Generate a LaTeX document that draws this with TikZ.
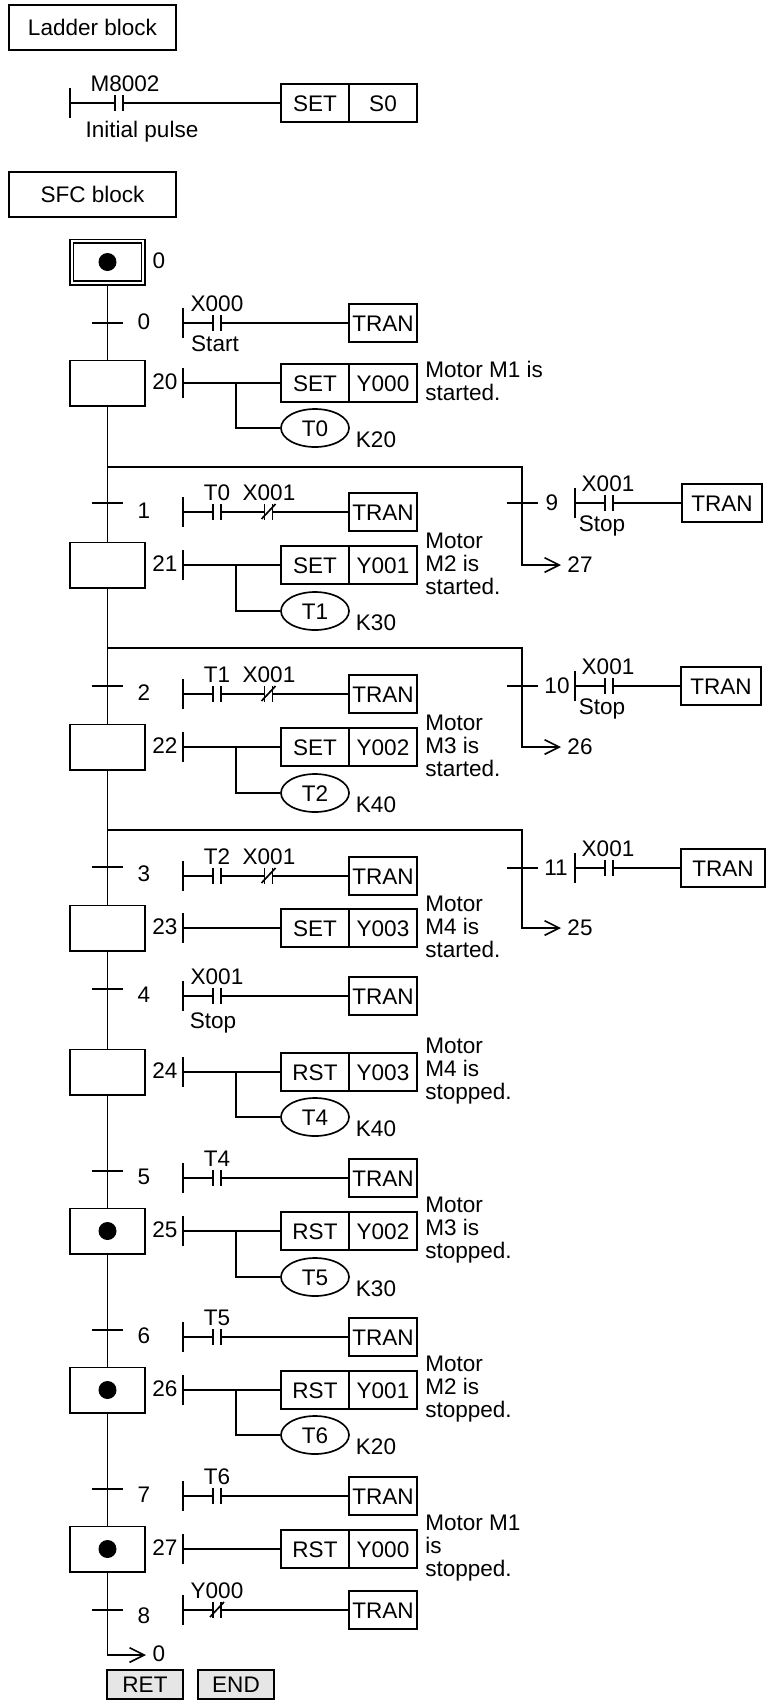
\documentclass[tikz,border=0pt]{standalone}
\usepackage{fontspec}
\setmainfont{Liberation Sans}
\usetikzlibrary{arrows.meta,calc,shapes.geometric}
\definecolor{KeyGray}{HTML}{E6E6E6}
\tikzset{
  wire/.style={line width=1.25pt},
  arrowwire/.style={wire,-{Straight Barb[length=11pt,width=11pt,line width=1.2pt]}},
  lbl/.style={inner sep=0pt,font=\fontsize{16.9}{17}\selectfont,text height=12.1pt,text depth=0pt},
  boxed/.style={draw,line width=1.25pt,inner sep=0pt,font=\fontsize{16.9}{17}\selectfont,text height=12.1pt,text depth=0pt},
  stepbox/.style={boxed,minimum width=56.25pt,minimum height=34pt},
  cellbox/.style={boxed,minimum width=51pt,minimum height=28.5pt},
  timer/.style={boxed,ellipse,minimum width=51pt,minimum height=28.5pt},
  note/.style={inner sep=0pt,anchor=west,align=left,font=\fontsize{16.9}{17.3}\selectfont},
}
\newcommand{\Rail}[3]{%
  \coordinate (#1) at (#2,#3);%
  \draw[wire] (#2,#3-15) -- (#2,#3+15);%
}
\newcommand{\Contact}[3]{%
  \coordinate (#1a) at (#2-4,#3);%
  \coordinate (#1b) at (#2+4,#3);%
  \draw[wire] (#2-4,#3-8) -- (#2-4,#3+8);%
  \draw[wire] (#2+4,#3-8) -- (#2+4,#3+8);%
}
\newcommand{\ContactNC}[3]{%
  \Contact{#1}{#2}{#3}%
  \draw[wire] (#2-7,#3+7) -- (#2+7,#3-8);%
}
\begin{document}
\begin{tikzpicture}[x=0.75pt,y=-0.75pt]
\useasboundingbox (0,0) rectangle (770,1700);
\node[boxed,minimum width=125.25pt,minimum height=33.75pt] (ladderblock) at (92.5,27.5) {Ladder block};
\node[boxed,minimum width=125.25pt,minimum height=33.75pt] (sfcblock) at (92.5,194.5) {SFC block};
\Rail{rm}{70}{103}
\Contact{cm}{119}{103}
\node[cellbox] (opm) at (315,103) {SET};
\node[cellbox] (devm) at (383,103) {S0};
\draw[wire] (rm) -- (cma);
\draw[wire] (cmb) -- (opm);
\node[lbl] (lm) at (125,83) {M8002};
\node[lbl] (lp) at (142,129) {Initial pulse};
\node[stepbox] (s0) at (107.5,262) {};
\node[draw,line width=1.25pt,minimum width=51pt,minimum height=28.5pt] (s0i) at (107.5,262) {};
\node[lbl] (l0) at (159,260) {0};
\foreach \n/\y/\op/\dev in {20/383/SET/Y000,21/565/SET/Y001,22/747/SET/Y002,23/928/SET/Y003,24/1072/RST/Y003,25/1231/RST/Y002,26/1390/RST/Y001,27/1549/RST/Y000} {
  \node[stepbox] (s\n) at (107.5,\y) {};
  \node[lbl] (l\n) at (165,\y-2) {\n};
  \Rail{r\n}{183}{\y}
  \node[cellbox] (op\n) at (315,\y) {\op};
  \node[cellbox] (dev\n) at (383,\y) {\dev};
  \draw[wire] (r\n) -- (op\n);
}
\foreach \n in {0,25,26,27} {
  \fill (s\n.center) circle (6.75pt);
}
\foreach \n/\y/\tm/\k in {20/428/T0/K20,21/611/T1/K30,22/793/T2/K40,24/1117/T4/K40,25/1277/T5/K30,26/1435/T6/K20} {
  \coordinate (b\n) at ($(r\n)+(53,0)$);
  \node[timer] (\tm) at (315,\y) {\tm};
  \node[lbl] (k\n) at (376,\y+11) {\k};
  \draw[wire] (b\n) |- (\tm);
}
\draw[wire,line width=1.8pt] (b20 |- T0) -- (T0);
\draw[wire,line width=1.8pt] (b26 |- T6) -- (T6);
\foreach \n/\y/\txt in {20/381/{Motor M1 is\\started.},21/564/{Motor\\M2 is\\started.},22/746/{Motor\\M3 is\\started.},23/927/{Motor\\M4 is\\started.},24/1071/{Motor\\M4 is\\stopped.},25/1230/{Motor\\M3 is\\stopped.},26/1389/{Motor\\M2 is\\stopped.},27/1548/{Motor M1\\is\\stopped.}} {
  \node[note] (n\n) at (425,\y) {\txt};
}
\foreach \n/\y/\ly/\yl in {0/323/323/321,1/503/512/510,2/686/694/692,3/867/876/873,4/989/996/994,5/1171/1178/1176,6/1330/1337/1335,7/1489/1496/1494,8/1610/1610/1615} {
  \coordinate (tr\n) at (107.5,\y);
  \draw[wire] ($(tr\n)+(-16,0)$) -- ($(tr\n)+(15,0)$);
  \node[lbl] (tl\n) at (144,\yl) {\n};
  \Rail{rt\n}{183}{\ly}
  \node[cellbox] (tran\n) at (383,\ly) {TRAN};
}
\foreach \n/\y/\tm in {0/323/X000,1/512/T0,2/694/T1,3/876/T2,4/996/X001,5/1178/T4,6/1337/T5,7/1496/T6} {
  \Contact{c\n}{217}{\y}
  \node[lbl] (cl\n) at (217,\y-19.5) {\tm};
  \draw[wire] (rt\n) -- (c\n a);
}
\foreach \n in {0,4,5,6,7} {
  \draw[wire] (c\n b) -- (tran\n);
}
\foreach \n/\y in {1/512,2/694,3/876} {
  \ContactNC{d\n}{268.5}{\y}
  \node[lbl] (dl\n) at (269,\y-19.5) {X001};
  \draw[wire] (c\n b) -- (d\n a);
  \draw[wire] (d\n b) -- (tran\n);
}
\ContactNC{d8}{217}{1610}
\node[lbl] (dl8) at (217,1590) {Y000};
\draw[wire] (rt8) -- (d8a);
\draw[wire] (d8b) -- (tran8);
\node[lbl] (st0) at (215,343) {Start};
\node[lbl] (st4) at (213,1020) {Stop};
\foreach \n/\h/\y/\ay/\tgt/\lx/\tx/\tw in {9/467/503/565/27/552/722/60,10/648/686/747/26/557/721/60,11/830/868/928/25/556/723/63} {
  \coordinate (j\n) at (107.5,\h);
  \coordinate (q\n) at (522,\ay);
  \coordinate (a\n) at (561,\ay);
  \draw[arrowwire] (j\n) -| (q\n) -- (a\n);
  \coordinate (tr\n) at (522,\y);
  \draw[wire] ($(tr\n)+(-15,0)$) -- ($(tr\n)+(16,0)$);
  \node[lbl] (tl\n) at (\lx,\y-1) {\n};
  \node[lbl] (g\n) at (580,\ay-1) {\tgt};
  \Rail{rt\n}{575}{\y}
  \Contact{c\n}{609}{\y}
  \node[lbl] (cl\n) at (608,\y-19.5) {X001};
  \node[cellbox,minimum width=\tw pt] (tran\n) at (\tx,\y) {TRAN};
  \draw[wire] (rt\n) -- (c\n a);
  \draw[wire] (c\n b) -- (tran\n);
}
\node[lbl] (st9) at (602,523) {Stop};
\node[lbl] (st10) at (602,706) {Stop};
\coordinate (v0) at (107.5,1655);
\coordinate (a0) at (146,1655);
\node[lbl] (g0) at (159,1653) {0};
\draw[wire] (s0) -- (s20);
\draw[wire] (s20) -- (s21);
\draw[wire] (s21) -- (s22);
\draw[wire] (s22) -- (s23);
\draw[wire] (s23) -- (s24);
\draw[wire] (s24) -- (s25);
\draw[wire] (s25) -- (s26);
\draw[wire] (s26) -- (s27);
\draw[arrowwire] (s27) -- (v0) -- (a0);
\node[boxed,fill=KeyGray,minimum width=57pt,minimum height=21.75pt] (ret) at (145,1684.5) {RET};
\node[boxed,fill=KeyGray,minimum width=57pt,minimum height=21.75pt] (end) at (236,1684.5) {END};
\end{tikzpicture}
\end{document}
